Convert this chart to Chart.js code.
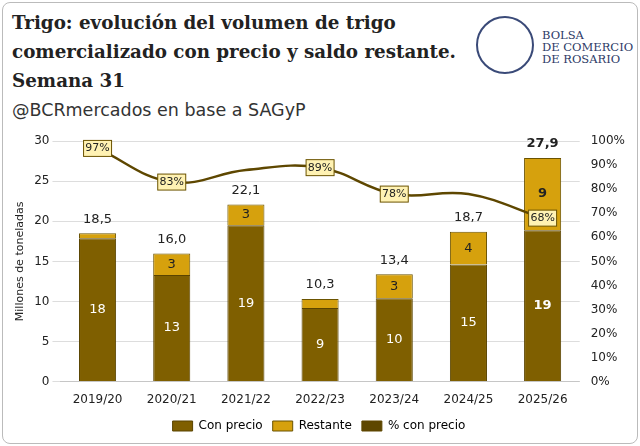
<!DOCTYPE html>
<html><head><meta charset="utf-8">
<script src="https://cdn.jsdelivr.net/npm/chart.js@4/dist/chart.umd.min.js"></script>
<style>
body{margin:0;width:640px;height:446px;background:#fff;font-family:"DejaVu Serif",serif;overflow:hidden}
#frame{position:absolute;left:2px;top:2px;width:634px;height:440px;border:1px solid #bbb;border-radius:8px}
#t{position:absolute;left:12px;top:8px;font-weight:bold;font-size:18.3px;line-height:29px;color:#222}
#s{position:absolute;left:12px;top:100px;font-family:"DejaVu Sans",sans-serif;font-size:17.5px;color:#333}
#logo{position:absolute;left:476px;top:16px;width:58px;height:58px;border:2px solid #3a4a78;border-radius:50%;box-sizing:border-box}
#lt{position:absolute;left:542px;top:29px;font-size:11.5px;line-height:12px;color:#2c3a66}
#wrap{position:absolute;left:4px;top:131px;width:632px;height:311px}
</style></head><body>
<div id="frame"></div>
<div id="t">Trigo: evolución del volumen de trigo<br>comercializado con precio y saldo restante.<br>Semana 31</div>
<div id="s">@BCRmercados en base a SAGyP</div>
<div id="logo"></div>
<div id="lt">BOLSA<br>DE COMERCIO<br>DE ROSARIO</div>
<div id="wrap"><canvas id="c"></canvas></div>
<script>
const categories=["2019/20","2020/21","2021/22","2022/23","2023/24","2024/25","2025/26"];
const conPrecio=[17.9,13.3,19.5,9.2,10.4,14.6,18.9];
const restante=[0.6,2.7,2.6,1.1,3.0,4.1,9.0];
const totals=["18,5","16,0","22,1","10,3","13,4","18,7","27,9"];
const pct=[97,83,88,89,78,78,68];
const pctLabelShown=[true,true,false,true,true,false,true];
const conLbl=["18","13","19","9","10","15","19"];
const resLbl=["","3","3","","3","4","9"];
const C1="#7f5f00",C2="#d6a10d",CL="#5e4700";
const labels={id:"lbl",afterDatasetsDraw(ch){
 const x=ch.ctx;x.save();x.textAlign="center";x.textBaseline="middle";
 const m0=ch.getDatasetMeta(0),m1=ch.getDatasetMeta(1),m2=ch.getDatasetMeta(2);
 categories.forEach((_,i)=>{
  const last=i===6;const f=(last?"bold ":"")+"13px 'DejaVu Sans'";x.font=f;
  const b0=m0.data[i],b1=m1.data[i];
  x.fillStyle="#fff";x.fillText(conLbl[i],b0.x,(b0.y+b0.base)/2);
  if(resLbl[i]){x.fillStyle="#222";x.fillText(resLbl[i],b1.x,(b1.y+b1.base)/2);}
  x.fillStyle="#222";x.fillText(totals[i],b1.x,b1.y-14);
  if(pctLabelShown[i]){const p=m2.data[i];x.font="11px 'DejaVu Sans'";
   x.fillStyle="#fff2b3";x.strokeStyle="#6b5300";x.lineWidth=1;
   x.fillRect(p.x-14,p.y-8,28,16);x.strokeRect(p.x-14,p.y-8,28,16);
   x.fillStyle="#222";x.fillText(pct[i]+"%",p.x,p.y);}
 });x.restore();}};
new Chart(document.getElementById("c"),{
 data:{labels:categories,datasets:[
  {type:"bar",label:"Con precio",data:conPrecio,backgroundColor:C1,borderColor:"#5a4400",borderWidth:1,stack:"s",yAxisID:"y",order:2,barPercentage:0.5,categoryPercentage:1},
  {type:"bar",label:"Restante",data:restante,backgroundColor:C2,borderColor:"#6b5300",borderWidth:1,stack:"s",yAxisID:"y",order:2,barPercentage:0.5,categoryPercentage:1},
  {type:"line",label:"% con precio",data:pct,borderColor:CL,borderWidth:2.5,pointRadius:0,tension:0.4,yAxisID:"y2",order:1}]},
 options:{responsive:true,maintainAspectRatio:false,animation:false,
  layout:{padding:{left:6,right:8,top:4}},
  plugins:{legend:{position:"bottom",labels:{font:{family:"DejaVu Sans",size:12},color:"#222",boxWidth:20,boxHeight:10,
   generateLabels(ch){return ch.data.datasets.map((d,i)=>({text:d.label,fillStyle:i==2?CL:d.backgroundColor,strokeStyle:i==2?CL:d.borderColor,lineWidth:1,datasetIndex:i,pointStyle:i==2?"line":undefined}))}}},tooltip:{enabled:false}},
  scales:{
   x:{stacked:true,grid:{display:false},ticks:{font:{family:"DejaVu Sans",size:12},color:"#222"}},
   y:{stacked:true,min:0,max:30,ticks:{stepSize:5,font:{family:"DejaVu Sans",size:12},color:"#222"},grid:{color:"#ddd"},border:{display:false},
    title:{display:true,text:"Millones de toneladas",font:{family:"DejaVu Sans",size:11},color:"#222"}},
   y2:{position:"right",min:0,max:100,ticks:{stepSize:10,callback:v=>v+"%",font:{family:"DejaVu Sans",size:12},color:"#222"},grid:{display:false},border:{display:false}}}},
 plugins:[labels]});
</script></body></html>
